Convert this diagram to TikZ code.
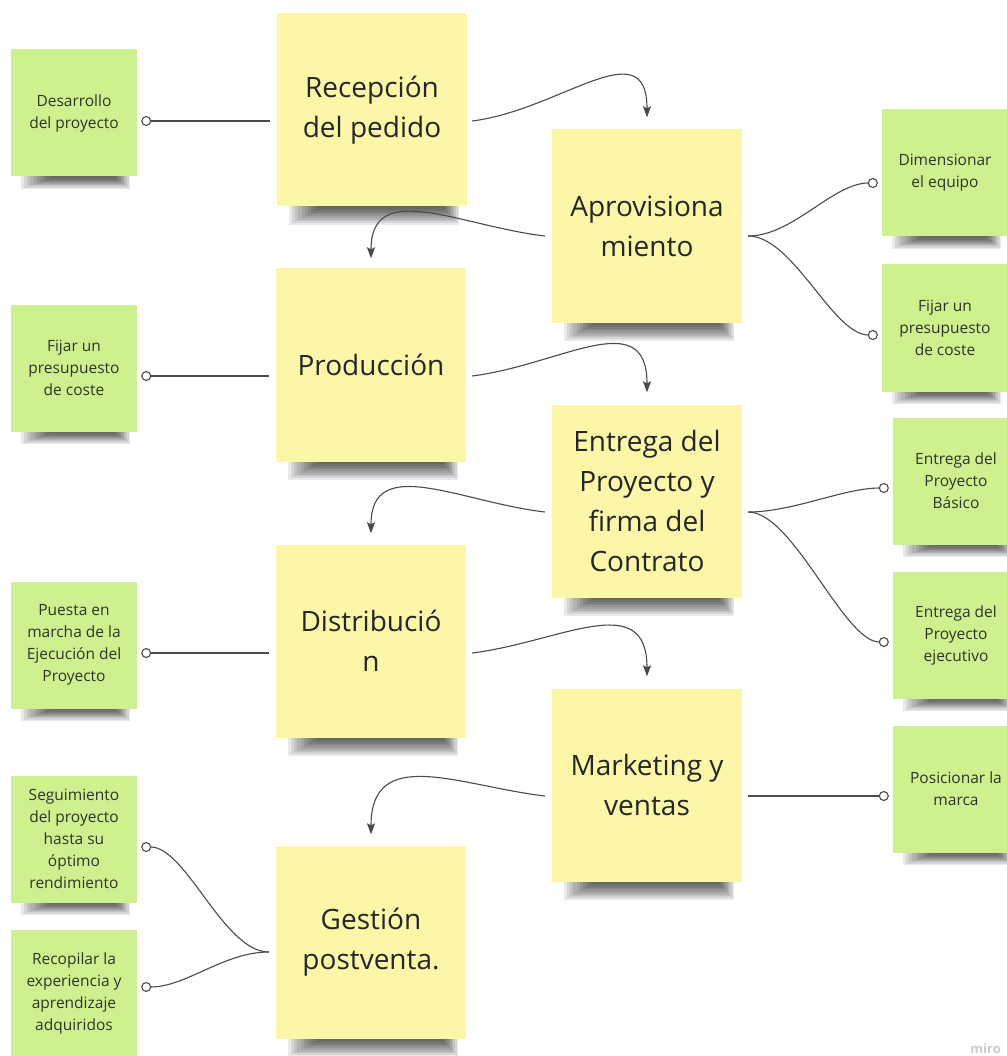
\documentclass[tikz,border=0pt]{standalone}
\usepackage{fontspec}
\setmainfont{Open Sans}
\usetikzlibrary{arrows.meta,calc,backgrounds}
\definecolor{stickyY}{HTML}{FCF6A9}
\definecolor{stickyG}{HTML}{CFF08F}
\definecolor{linec}{HTML}{4A4A4A}
\definecolor{txtY}{HTML}{262626}
\definecolor{txtG}{HTML}{2E3527}
% soft shadow below a sticky note: #1 node, #2 left inset, #3 right inset, #4 depth
\newcommand\stickyshadow[4]{%
  \foreach \k in {0,...,9}{%
    \fill[black,opacity=0.085]
      ($(#1.south west)+({#2+3.2*\k},-1)$) rectangle ($(#1.south east)+({-#3-1.6*\k},{#4*(1-0.095*\k)})$);
  }}
\begin{document}
\begin{tikzpicture}[x=1pt,y=-1pt,
  bignote/.style={fill=stickyY, minimum width=190pt, minimum height=193pt, inner sep=0pt, align=center, text=txtY, font=\fontsize{28}{40}\selectfont},
  smallnote/.style={fill=stickyG, minimum width=126pt, minimum height=127pt, inner sep=0pt, align=center, text=txtG, font=\fontsize{15.5}{22}\selectfont},
  conn/.style={draw=linec, line width=1.1pt},
  flow/.style={conn, -{Stealth[length=11pt,width=8pt,inset=2pt]}},
  dot/.style={conn, -{Circle[open,length=10pt,width=10pt]}}
]
\useasboundingbox (0,0) rectangle (1006,1056);

% main process notes
\node[bignote] (rec) at (372,110) {Recepción\\del pedido};
\node[bignote] (apr) at (647,226) {Aprovisiona\\miento};
\node[bignote] (pro) at (371,365) {Producción};
\node[bignote] (ent) at (647,501) {Entrega del\\Proyecto y\\firma del\\Contrato};
\node[bignote] (dis) at (371,641) {Distribució\\n};
\node[bignote] (mkt) at (647,785) {Marketing y\\ventas};
\node[bignote] (ges) at (371,942) {Gestión\\postventa.};

% left detail notes
\node[smallnote] (desa) at (74,113) {Desarrollo\\del proyecto};
\node[smallnote] (fij1) at (74,368) {Fijar un\\presupuesto\\de coste};
\node[smallnote] (pue) at (74,645) {Puesta en\\marcha de la\\Ejecución del\\Proyecto};
\node[smallnote] (seg) at (74,839) {Seguimiento\\del proyecto\\hasta su\\óptimo\\rendimiento};
\node[smallnote] (rec2) at (74,993) {Recopilar la\\experiencia y\\aprendizaje\\adquiridos};

% right detail notes
\node[smallnote] (dim) at (945,173) {Dimensionar\\el equipo};
\node[smallnote] (fij2) at (945,328) {Fijar un\\presupuesto\\de coste};
\node[smallnote] (ebas) at (956,481) {Entrega del\\Proyecto\\Básico};
\node[smallnote] (eeje) at (956,635) {Entrega del\\Proyecto\\ejecutivo};
\node[smallnote] (pos) at (956,789) {Posicionar la\\marca};

\node[font=\fontsize{13}{13}\selectfont\bfseries, text=gray!40, anchor=south east, inner sep=0pt] (miro) at (1001,1054) {miro};

\begin{scope}[on background layer]
  \foreach \n in {rec,apr,pro,ent,dis,mkt,ges}{\stickyshadow{\n}{12}{8}{18}}
  \foreach \n in {desa,fij1,pue,seg,rec2,dim,fij2,ebas,eeje,pos}{\stickyshadow{\n}{10}{7}{12}}
\end{scope}

% left straight connectors
\draw[dot] ($(rec.west)+(-7,11)$) -- ($(desa.east)+(4,8)$);
\draw[dot] ($(pro.west)+(-7,11)$) -- ($(fij1.east)+(4,8)$);
\draw[dot] ($(dis.west)+(-7,12)$) -- ($(pue.east)+(4,8)$);

% flow arrows
\draw[flow] ($(rec.east)+(5,11)$) .. controls +(88,-11) and +(0,-88) .. ($(apr.north)+(0,-12)$);
\draw[flow] ($(apr.west)+(-7,10)$) .. controls +(-85,-10) and +(0,-80) .. ($(pro.north)+(0,-10)$);
\draw[flow] ($(pro.east)+(6,11)$) .. controls +(88,-11) and +(0,-88) .. ($(ent.north)+(0,-12)$);
\draw[flow] ($(ent.west)+(-7,11)$) .. controls +(-85,-10) and +(0,-80) .. ($(dis.north)+(0,-11)$);
\draw[flow] ($(dis.east)+(6,12)$) .. controls +(88,-11) and +(0,-88) .. ($(mkt.north)+(0,-12)$);
\draw[flow] ($(mkt.west)+(-7,11)$) .. controls +(-85,-10) and +(0,-90) .. ($(ges.north)+(0,-11)$);

% right branches
\draw[dot] ($(apr.east)+(6,10)$) .. controls +(45,0) and +(-45,0) .. ($(dim.west)+(-4,10)$);
\draw[dot] ($(apr.east)+(6,10)$) .. controls +(45,0) and +(-45,0) .. ($(fij2.west)+(-4,7)$);
\draw[dot] ($(ent.east)+(6,11)$) .. controls +(45,0) and +(-45,0) .. ($(ebas.west)+(-4,7)$);
\draw[dot] ($(ent.east)+(6,11)$) .. controls +(45,0) and +(-45,0) .. ($(eeje.west)+(-4,7)$);
\draw[dot] ($(mkt.east)+(6,11)$) -- ($(pos.west)+(-4,7)$);

% Gestion branches
\draw[dot] ($(ges.west)+(-7,10)$) .. controls +(-45,0) and +(45,0) .. ($(seg.east)+(4,8)$);
\draw[dot] ($(ges.west)+(-7,10)$) .. controls +(-45,0) and +(45,0) .. ($(rec2.east)+(4,-6)$);
\end{tikzpicture}
\end{document}
